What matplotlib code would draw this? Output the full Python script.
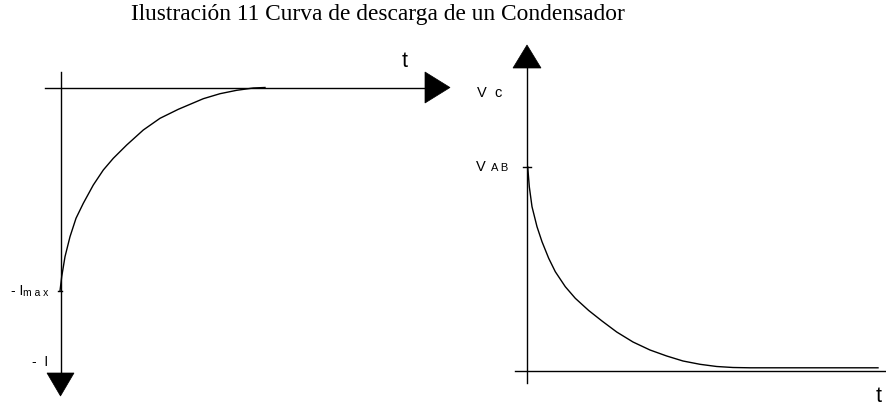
import matplotlib
matplotlib.use('Agg')
import matplotlib.pyplot as plt
from matplotlib.patches import Polygon

# curve samples (pixel coords, y down)
carga_x = [60, 61.7, 65, 70, 76, 83.3, 93.3, 103.3, 113.3, 126.7, 143.3, 160, 178.3, 203.3, 220, 236.7, 253.3, 265]
carga_y = [291, 276.7, 256.7, 236.7, 218.3, 203.3, 185, 170, 158.3, 145, 130, 118.3, 109.3, 98.7, 93.7, 90.3, 88, 87.5]
desc_x = [527.7, 529.3, 532, 537, 542, 548.7, 555.3, 565.3, 575.3, 588.7, 602, 616.7, 633, 650, 666.7, 683, 700, 716.7, 733, 750, 878]
desc_y = [166.7, 186.7, 206.7, 226.7, 241.7, 258.3, 271.7, 286.7, 298.3, 310.5, 321, 332, 342, 350, 356, 361, 364.3, 366.5, 367.5, 367.8, 367.8]

TITLE = "Ilustración 11 Curva de descarga de un Condensador"

fig = plt.figure(figsize=(8.87, 4.12), dpi=100)
ax = fig.add_axes([0, 0, 1, 1])
ax.set_xlim(0, 887)
ax.set_ylim(412, 0)
ax.axis('off')

sans = ['Liberation Sans', 'DejaVu Sans']

# titulo
ax.text(378, 14, TITLE, ha='center', va='center', fontsize=16.8,
        family=['Liberation Serif', 'DejaVu Serif'])

# ---- grafica izquierda (corriente) ----
ax.plot([45, 428], [87.5, 87.5], color='black', lw=1.0)
ax.plot([61, 61], [72, 375], color='black', lw=1.0)
ax.add_patch(Polygon([(425, 72), (425, 103), (450, 87.5)], closed=True, fc='black', ec='black', lw=0.5))
ax.add_patch(Polygon([(47, 373), (74, 373), (60.5, 396)], closed=True, fc='black', ec='black', lw=0.5))
ax.plot(carga_x, carga_y, color='black', lw=1.0)
ax.plot([58, 62], [291, 291], color='black', lw=1.0)
ax.text(405, 61, 't', ha='center', va='center', fontsize=15.5, family=sans)
ax.text(11, 291, '- I', ha='left', va='center', fontsize=10, family=sans)
ax.text(23.5, 293, 'm a x', ha='left', va='center', fontsize=7.5, family=sans)
ax.text(32, 362, '-  I', ha='left', va='center', fontsize=10, family=sans)

# ---- grafica derecha (tension) ----
ax.plot([515, 887], [371, 371], color='black', lw=1.0)
ax.plot([527, 527], [66, 383], color='black', lw=1.0)
ax.add_patch(Polygon([(513, 68), (541, 68), (527, 45)], closed=True, fc='black', ec='black', lw=0.5))
ax.plot(desc_x, desc_y, color='black', lw=1.0)
ax.plot([523, 531], [166.5, 166.5], color='black', lw=1.0)
ax.text(477, 93, 'V  c', ha='left', va='center', fontsize=10.5, family=sans)
ax.text(476, 167, 'V', ha='left', va='center', fontsize=10.5, family=sans)
ax.text(491, 168, 'A B', ha='left', va='center', fontsize=8, family=sans)
ax.text(879, 397, 't', ha='center', va='center', fontsize=15.5, family=sans)

fig.savefig('out.png', dpi=100)
